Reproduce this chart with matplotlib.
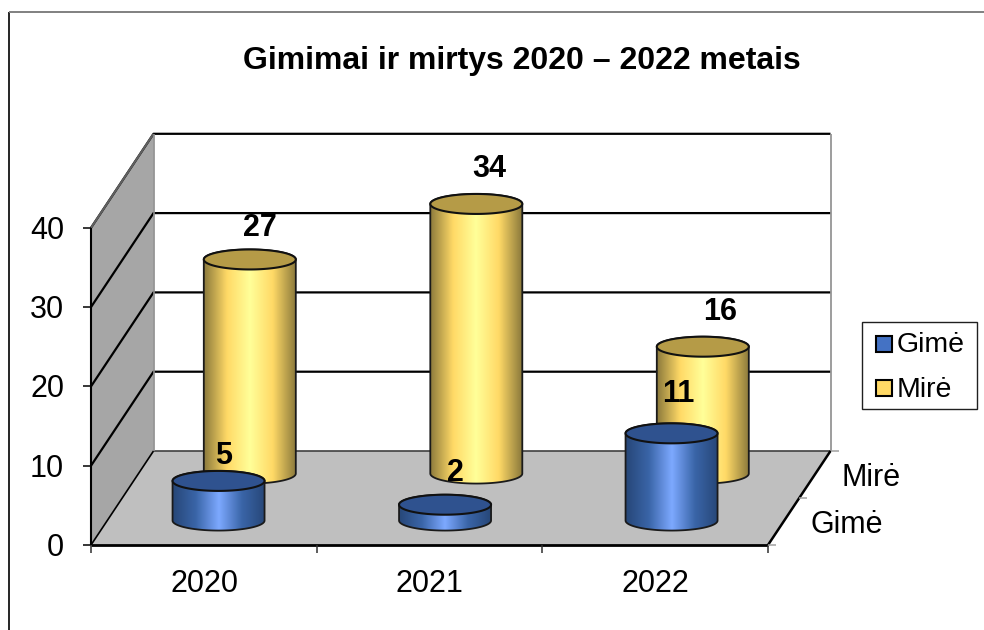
# -*- coding: utf-8 -*-
import numpy as np
import matplotlib
matplotlib.use("Agg")
import matplotlib.pyplot as plt
from matplotlib.colors import LinearSegmentedColormap
from matplotlib.patches import Polygon, Rectangle

plt.rcParams['font.family'] = ['Liberation Sans', 'DejaVu Sans']

# --- data ---
years = ['2020', '2021', '2022']
born = [5, 2, 11]
died = [27, 34, 16]
y_ticks = [0, 10, 20, 30, 40]
series_names = ['Gimė', 'Mirė']

# --- layout of the fake 3D box, all in reference pixels ---
W, H = 984, 630
CAT_W = 225.67
CAT0_PX = 204.0
ZERO_PY = 545.0
UNIT_PY = 7.93
BACK_DX = 62.5    # front -> back wall shift
BACK_DY = 94.0
BORN_DEPTH = 0.26
DIED_DEPTH = 0.76
BAR_STEP = 226.5 / CAT_W   # cylinders sit a bit wider than the axis ticks
BAR_SHIFT = -1.7 / CAT_W
RX = 46.0         # cylinder radii
RY = 10.0
# label shift from top of cylinder, px
BORN_OFFS = [(5, -28), (10, -35), (7, -42)]
DIED_OFFS = [(10, -34), (13, -38), (17, -38)]

BLUE_CMAP = LinearSegmentedColormap.from_list(
    'blue3d', ['#274778', '#3A65A8', '#7DA9FF', '#3A65A8', '#274778'])
GOLD_CMAP = LinearSegmentedColormap.from_list(
    'gold3d', ['#8C7A3C', '#FFD966', '#FFFF99', '#FFD966', '#8C7A3C'])
BLUE_TOP = '#2F528F'
GOLD_TOP = '#B59B47'
BLUE_KEY = '#4472C4'
GOLD_KEY = '#FFD966'


def X(px):
    return (px - CAT0_PX) / CAT_W


def Y(py):
    return (ZERO_PY - py) / UNIT_PY


fig = plt.figure(figsize=(W / 100, H / 100), dpi=100)
ax = fig.add_axes([0, 0, 1, 1])
ax.axis('off')

LEFT_PX, RIGHT_PX = 91.0, 768.0
x_left, x_right = X(LEFT_PX), X(RIGHT_PX)
dx = BACK_DX / CAT_W
dy = BACK_DY / UNIT_PY
y_top = y_ticks[-1]


def line(xs, ys, color='black', lw=1.5, z=2):
    ax.plot(xs, ys, color=color, lw=lw, zorder=z, solid_capstyle='butt')


# walls and floor
ax.add_patch(Polygon([(x_left, 0), (x_left, y_top), (x_left + dx, y_top + dy), (x_left + dx, dy)],
                     facecolor='#A6A6A6', edgecolor='none', zorder=1))
ax.add_patch(Polygon([(x_left, 0), (x_left + dx, dy), (x_right + dx, dy), (x_right, 0)],
                     facecolor='#BFBFBF', edgecolor='none', zorder=1))

# gridlines on the side and back walls
for v in y_ticks[1:]:
    line([x_left, x_left + dx, x_right + dx], [v, v + dy, v + dy], lw=1.6)
line([x_left, x_left + dx], [y_top, y_top + dy], color='#606060', lw=1.5)
line([x_left + dx, x_right + dx], [dy, dy], color='#404040', lw=1.2)
line([x_left + dx, x_left + dx], [dy, y_top + dy], color='#8C8C8C', lw=1.2)
line([x_right + dx, x_right + dx], [dy, y_top + dy], color='#8C8C8C', lw=1.2)
line([x_left, x_left + dx], [0, dy], lw=1.2)

# value axis
line([x_left, x_left], [0, y_top], lw=1.5, z=3)
tick_w = 8 / CAT_W
tick_h = 8 / UNIT_PY
for v in y_ticks:
    line([x_left - tick_w, x_left], [v, v], lw=1.1, z=3)
    ax.text(X(64), v - 3 / UNIT_PY, str(v), ha='right', va='center', fontsize=22, color='black')

# category axis
line([x_left, x_right], [0, 0], lw=2, z=3)
for i in range(len(years) + 1):
    xt = x_left + i * (x_right - x_left) / len(years)
    line([xt, xt], [0, -tick_h], color='#303030', lw=1.1, z=3)
for i, year in enumerate(years):
    ax.text(i, Y(584), year, ha='center', va='center', fontsize=22, color='black')

# depth axis
line([x_right, x_right + dx], [0, dy], lw=1.8, z=3)
for d in [0, 0.5, 1]:
    line([x_right + dx * d, x_right + dx * d + tick_w], [dy * d, dy * d], color='#A0A0A0', lw=1.1, z=3)
ax.text(X(841), Y(478), series_names[1], ha='left', va='center', fontsize=22)
ax.text(X(811), Y(525), series_names[0], ha='left', va='center', fontsize=22)


def cylinder(i, depth, value, cmap, top_color, z):
    cx = i * BAR_STEP + BAR_SHIFT + dx * depth
    y0 = dy * depth
    y1 = y0 + value
    a = RX / CAT_W
    b = RY / UNIT_PY
    t = np.linspace(0, np.pi, 80)
    # body = top half of the upper ellipse + lower half of base ellipse
    body = np.vstack([
        np.column_stack([cx + a * np.cos(t), y1 + b * np.sin(t)]),
        np.column_stack([cx - a * np.cos(t), y0 - b * np.sin(t)]),
    ])
    outline = Polygon(body, closed=True, facecolor='none', edgecolor='#1A1A1A', lw=1.3, zorder=z + 0.2)
    clip = Polygon(body, closed=True, transform=ax.transData)
    grad = np.linspace(0, 1, 256).reshape(1, -1)
    im = ax.imshow(grad, cmap=cmap, aspect='auto', zorder=z,
                   extent=[cx - a, cx + a, y0 - b, y1 + b], interpolation='bilinear')
    im.set_clip_path(clip)
    ax.add_patch(outline)
    tt = np.linspace(0, 2 * np.pi, 160)
    ax.add_patch(Polygon(np.column_stack([cx + a * np.cos(tt), y1 + b * np.sin(tt)]),
                         closed=True, facecolor=top_color, edgecolor='#111111', lw=1.5, zorder=z + 0.3))
    return cx, y1


died_tops = [cylinder(i, DIED_DEPTH, v, GOLD_CMAP, GOLD_TOP, 4) for i, v in enumerate(died)]
born_tops = [cylinder(i, BORN_DEPTH, v, BLUE_CMAP, BLUE_TOP, 5) for i, v in enumerate(born)]

# data labels
for tops, vals, offs in [(died_tops, died, DIED_OFFS), (born_tops, born, BORN_OFFS)]:
    for (cx, cy), v, (ox, oy) in zip(tops, vals, offs):
        ax.text(cx + ox / CAT_W, cy - (oy + 3) / UNIT_PY, str(v), ha='center', va='center',
                fontsize=22, fontweight='bold', color='black', zorder=8)

ax.text(X(522), Y(61), 'Gimimai ir mirtys 2020 – 2022 metais', ha='center', va='center',
        fontsize=23, fontweight='bold', color='black')

# outer chart frame, only top and left show
line([X(9), X(9)], [Y(12), Y(H)], lw=1.2)
line([X(9), X(W)], [Y(12), Y(12)], color='#808080', lw=1.4)

# legend drawn by hand, the box proportions dont come out of ax.legend
ax.add_patch(Rectangle((X(862), Y(409)), 115 / CAT_W, 87 / UNIT_PY, facecolor='white',
                       edgecolor='#202020', lw=1.0, zorder=9))
for name, color, top_py, text_py in [(series_names[0], BLUE_KEY, 352, 345),
                                     (series_names[1], GOLD_KEY, 396, 390)]:
    ax.add_patch(Rectangle((X(876), Y(top_py)), 16 / CAT_W, 16 / UNIT_PY, facecolor=color,
                           edgecolor='black', lw=1.5, zorder=10))
    ax.text(X(897), Y(text_py), name, ha='left', va='center', fontsize=20.5, zorder=10)

ax.set_xlim(X(0), X(W))
ax.set_ylim(Y(H), Y(0))
fig.savefig('out.png', dpi=100)
